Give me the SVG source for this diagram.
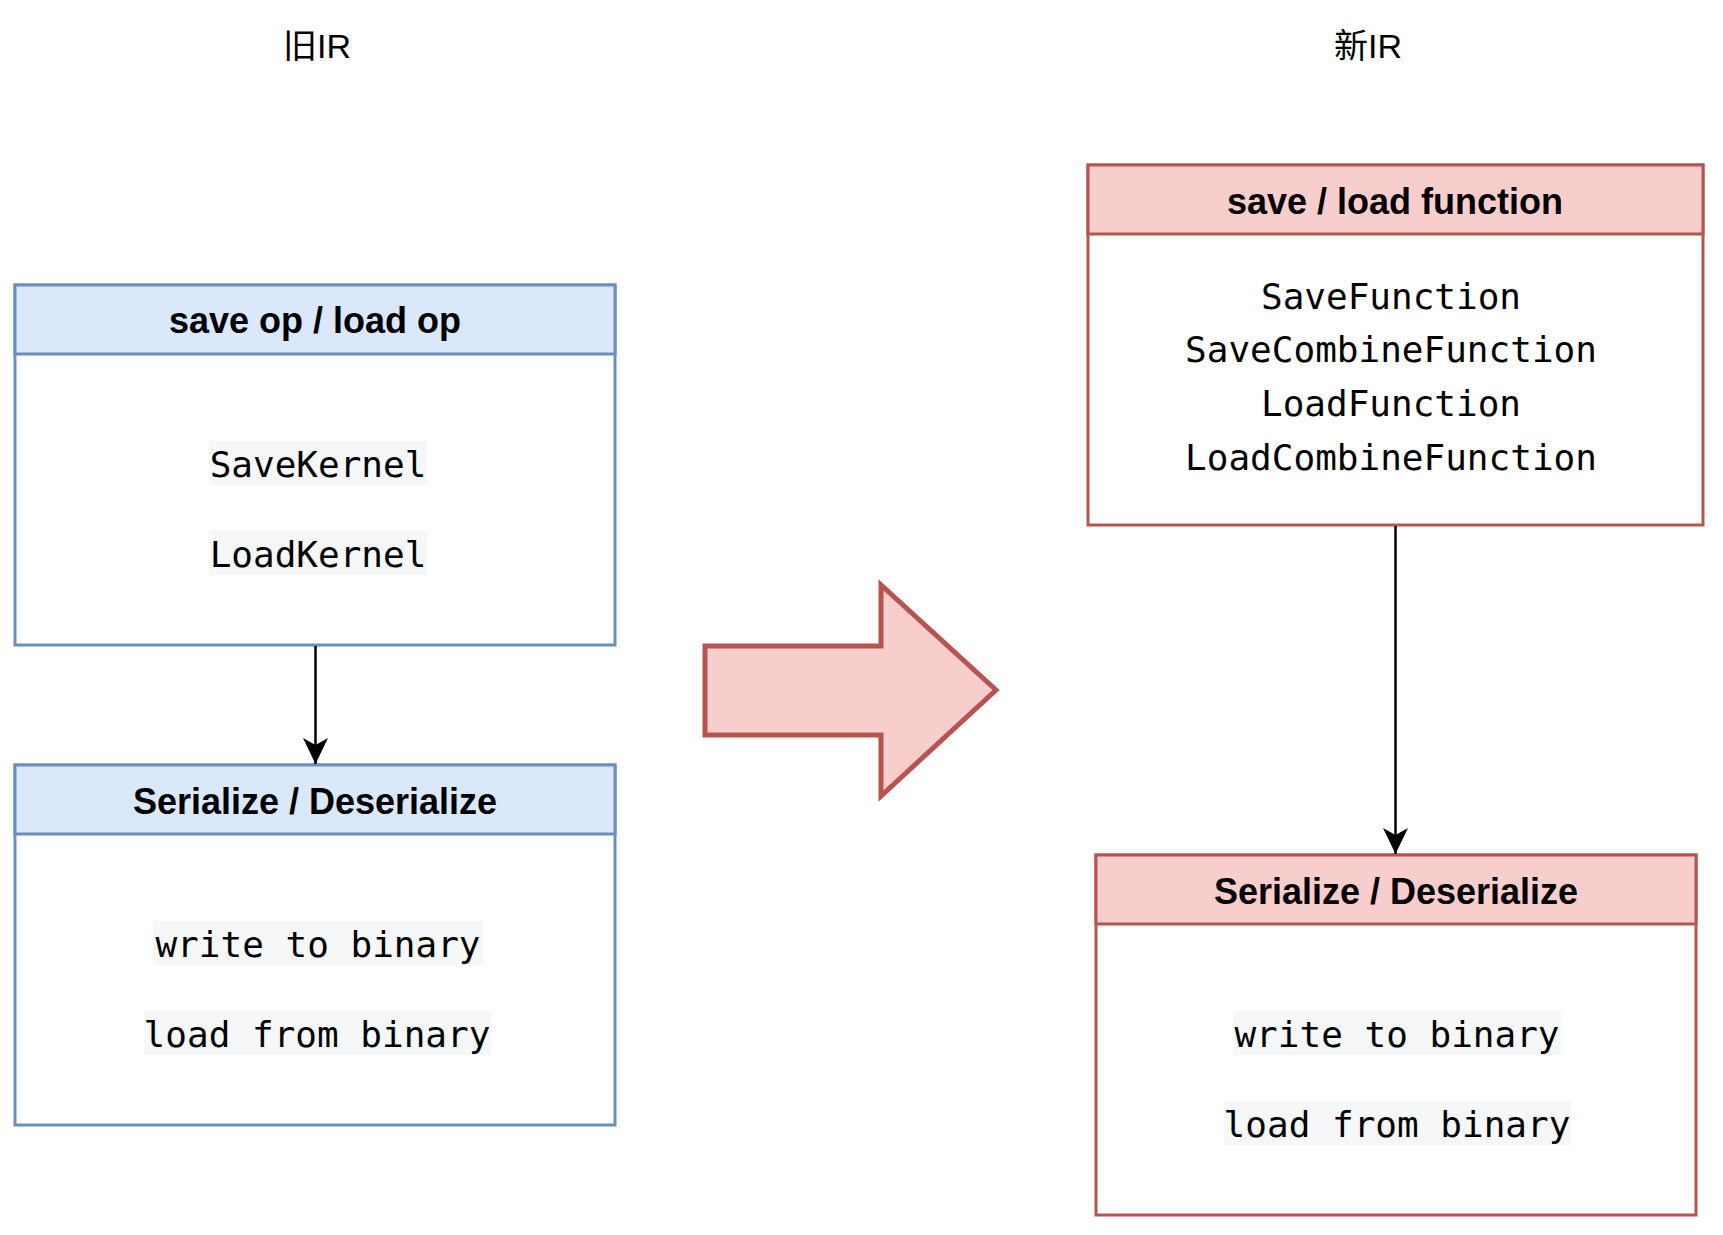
<svg xmlns="http://www.w3.org/2000/svg" width="1723" height="1235" viewBox="0 0 1723 1235">
<defs>
<style>
.title{font-family:"Liberation Sans","Noto Sans CJK SC",Arial,sans-serif;font-size:34px;fill:#000;text-anchor:middle}
.hdr{font-family:"Liberation Sans",Arial,Helvetica,sans-serif;font-size:36px;font-weight:bold;fill:#000;text-anchor:middle}
.mono{font-family:"DejaVu Sans Mono","Liberation Mono",monospace;font-size:36px;fill:#000;text-anchor:middle}
.codebg{fill:#f6f7f9}
.blue{fill:#dae8fc;stroke:#6c8ebf;stroke-width:3}
.bluebody{fill:#ffffff;stroke:#6c8ebf;stroke-width:3}
.red{fill:#f8cecc;stroke:#b85450;stroke-width:3}
.redbody{fill:#ffffff;stroke:#b85450;stroke-width:3}
.edge{fill:none;stroke:#000;stroke-width:2.5}
</style>
<marker id="arr" viewBox="0 0 26 26" refX="26" refY="13" markerWidth="26" markerHeight="26" markerUnits="userSpaceOnUse" orient="auto">
<path d="M26,13 L0,0.5 L7,13 L0,25.5 Z" fill="#000"/>
</marker>
</defs>
<rect width="1723" height="1235" fill="#ffffff"/>

<g id="title-old"><text class="title" x="317" y="58">旧IR</text></g>
<g id="title-new"><text class="title" x="1368" y="58">新IR</text></g>

<g id="old-saveload">
<rect class="bluebody" x="15" y="285" width="600" height="360"/>
<rect class="blue" x="15" y="285" width="600" height="69"/>
<text class="hdr" x="315" y="333">save op / load op</text>
<rect class="codebg" x="209" y="441" width="218" height="44"/>
<text class="mono" x="318" y="477">SaveKernel</text>
<rect class="codebg" x="209" y="531" width="218" height="44"/>
<text class="mono" x="318" y="567">LoadKernel</text>
</g>

<g id="old-serialize">
<rect class="bluebody" x="15" y="765" width="600" height="360"/>
<rect class="blue" x="15" y="765" width="600" height="69"/>
<text class="hdr" x="315" y="814">Serialize / Deserialize</text>
<rect class="codebg" x="153" y="921" width="330" height="44"/>
<text class="mono" x="318" y="957">write to binary</text>
<rect class="codebg" x="144" y="1011" width="347" height="44"/>
<text class="mono" x="317" y="1047">load from binary</text>
</g>

<g id="big-arrow">
<polygon points="705,646 881,646 881,585 996,690 881,796 881,735 705,735" fill="#f8cecc" stroke="#b85450" stroke-width="5" stroke-linejoin="miter"/>
</g>

<g id="new-saveload">
<rect class="redbody" x="1088" y="165" width="615" height="360"/>
<rect class="red" x="1088" y="165" width="615" height="69"/>
<text class="hdr" x="1395" y="214">save / load function</text>
<text class="mono" x="1391" y="309">SaveFunction</text>
<text class="mono" x="1391" y="362">SaveCombineFunction</text>
<text class="mono" x="1391" y="416">LoadFunction</text>
<text class="mono" x="1391" y="470">LoadCombineFunction</text>
</g>

<g id="new-serialize">
<rect class="redbody" x="1096" y="855" width="600" height="360"/>
<rect class="red" x="1096" y="855" width="600" height="69"/>
<text class="hdr" x="1396" y="904">Serialize / Deserialize</text>
<rect class="codebg" x="1233" y="1011" width="328" height="44"/>
<text class="mono" x="1397" y="1047">write to binary</text>
<rect class="codebg" x="1224" y="1101" width="347" height="44"/>
<text class="mono" x="1397" y="1137">load from binary</text>
</g>

<g id="connectors">
<line class="edge" x1="315.5" y1="646" x2="315.5" y2="764" marker-end="url(#arr)"/>
<line class="edge" x1="1395.5" y1="526" x2="1395.5" y2="854" marker-end="url(#arr)"/>
</g>
</svg>
